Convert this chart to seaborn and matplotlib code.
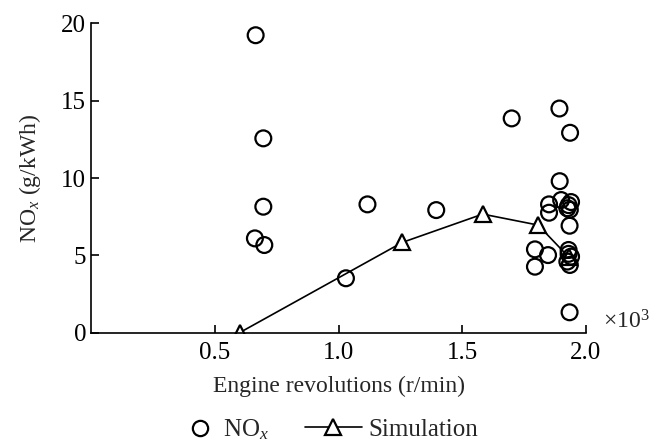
import numpy as np
import pandas as pd
import seaborn as sns
import matplotlib.pyplot as plt
from matplotlib.lines import Line2D

# Measured NOx data (engine revolutions in 10^3 r/min)
meas_rpm = [0.665, 0.696, 0.696, 0.662, 0.700, 1.030, 1.117, 1.395, 1.700,
            1.893, 1.936, 1.894, 1.794, 1.794, 1.847, 1.934, 1.934, 1.851,
            1.851, 1.900, 1.930, 1.940, 1.935, 1.925, 1.930, 1.940, 1.935,
            1.925, 1.930]
meas_nox = [19.24, 12.57, 8.15, 6.10, 5.67, 3.52, 8.30, 7.93, 13.86,
            14.50, 12.93, 9.80, 5.39, 4.27, 5.02, 1.32, 6.92, 8.30,
            7.76, 8.58, 8.25, 8.45, 7.95, 8.05, 5.35, 4.92, 4.38,
            4.60, 5.10]

# Simulation line
sim_rpm = [0.60, 1.258, 1.583, 1.807, 1.930]
sim_nox = [0.0, 5.84, 7.67, 6.96, 4.90]

meas = pd.DataFrame({"rpm": meas_rpm, "nox": meas_nox})
sim = pd.DataFrame({"rpm": sim_rpm, "nox": sim_nox})

sns.set_style("ticks")
plt.rcParams['font.family'] = ['Liberation Serif', 'DejaVu Serif']
plt.rcParams['mathtext.fontset'] = 'custom'
plt.rcParams['mathtext.rm'] = 'Liberation Serif'
plt.rcParams['mathtext.it'] = 'Liberation Serif:italic'

fig = plt.figure(figsize=(6.51, 4.43), dpi=100)
ax = fig.add_axes([0.14, 0.249, 0.76, 0.698])

sns.lineplot(data=sim, x="rpm", y="nox", ax=ax, color="black", lw=1.2,
             marker="^", markersize=11, markerfacecolor="white",
             markeredgecolor="black", markeredgewidth=1.6, zorder=2)
sns.scatterplot(data=meas, x="rpm", y="nox", ax=ax, s=130, marker="o",
                facecolor="none", edgecolor="black", linewidth=1.6, zorder=3)

ax.set_xlim(0, 2.0)
ax.set_ylim(0, 20)
ax.set_xticks([0.5, 1.0, 1.5, 2.0])
ax.set_xticklabels(["0.5", "1.0", "1.5", "2.0"])
ax.set_yticks([0, 5, 10, 15, 20])
ax.tick_params(direction="in", length=6, width=1.2, labelsize=18, colors="black")
ax.tick_params(axis="x", pad=7)
for s in ["top", "right"]:
    ax.spines[s].set_visible(False)
for s in ["left", "bottom"]:
    ax.spines[s].set_linewidth(1.2)
    ax.spines[s].set_color("black")

ax.set_xlabel("Engine revolutions (r/min)", fontsize=17, labelpad=8)
ax.set_ylabel("NO$_x$ (g/kWh)", fontsize=17, labelpad=13)
ax.text(1.035, 0.035, r"$\times$10$^3$", transform=ax.transAxes, fontsize=17,
        ha="left", va="center")

h_meas = Line2D([], [], ls="none", marker="o", markersize=11, markerfacecolor="white",
                markeredgecolor="black", markeredgewidth=1.6)
h_sim = Line2D([], [], color="black", lw=1.2, marker="^", markersize=11,
               markerfacecolor="white", markeredgecolor="black", markeredgewidth=1.6)
leg1 = fig.legend([h_meas], ["NO$_x$"], loc="center left",
                  bbox_to_anchor=(0.273, 0.03), frameon=False, fontsize=18,
                  handlelength=1.0, handletextpad=0.42, borderaxespad=0)
leg2 = fig.legend([h_sim], ["Simulation"], loc="center left",
                  bbox_to_anchor=(0.453, 0.03), frameon=False, fontsize=18,
                  handlelength=2.28, handletextpad=0.24, borderaxespad=0)

fig.savefig("out.png", dpi=100)
